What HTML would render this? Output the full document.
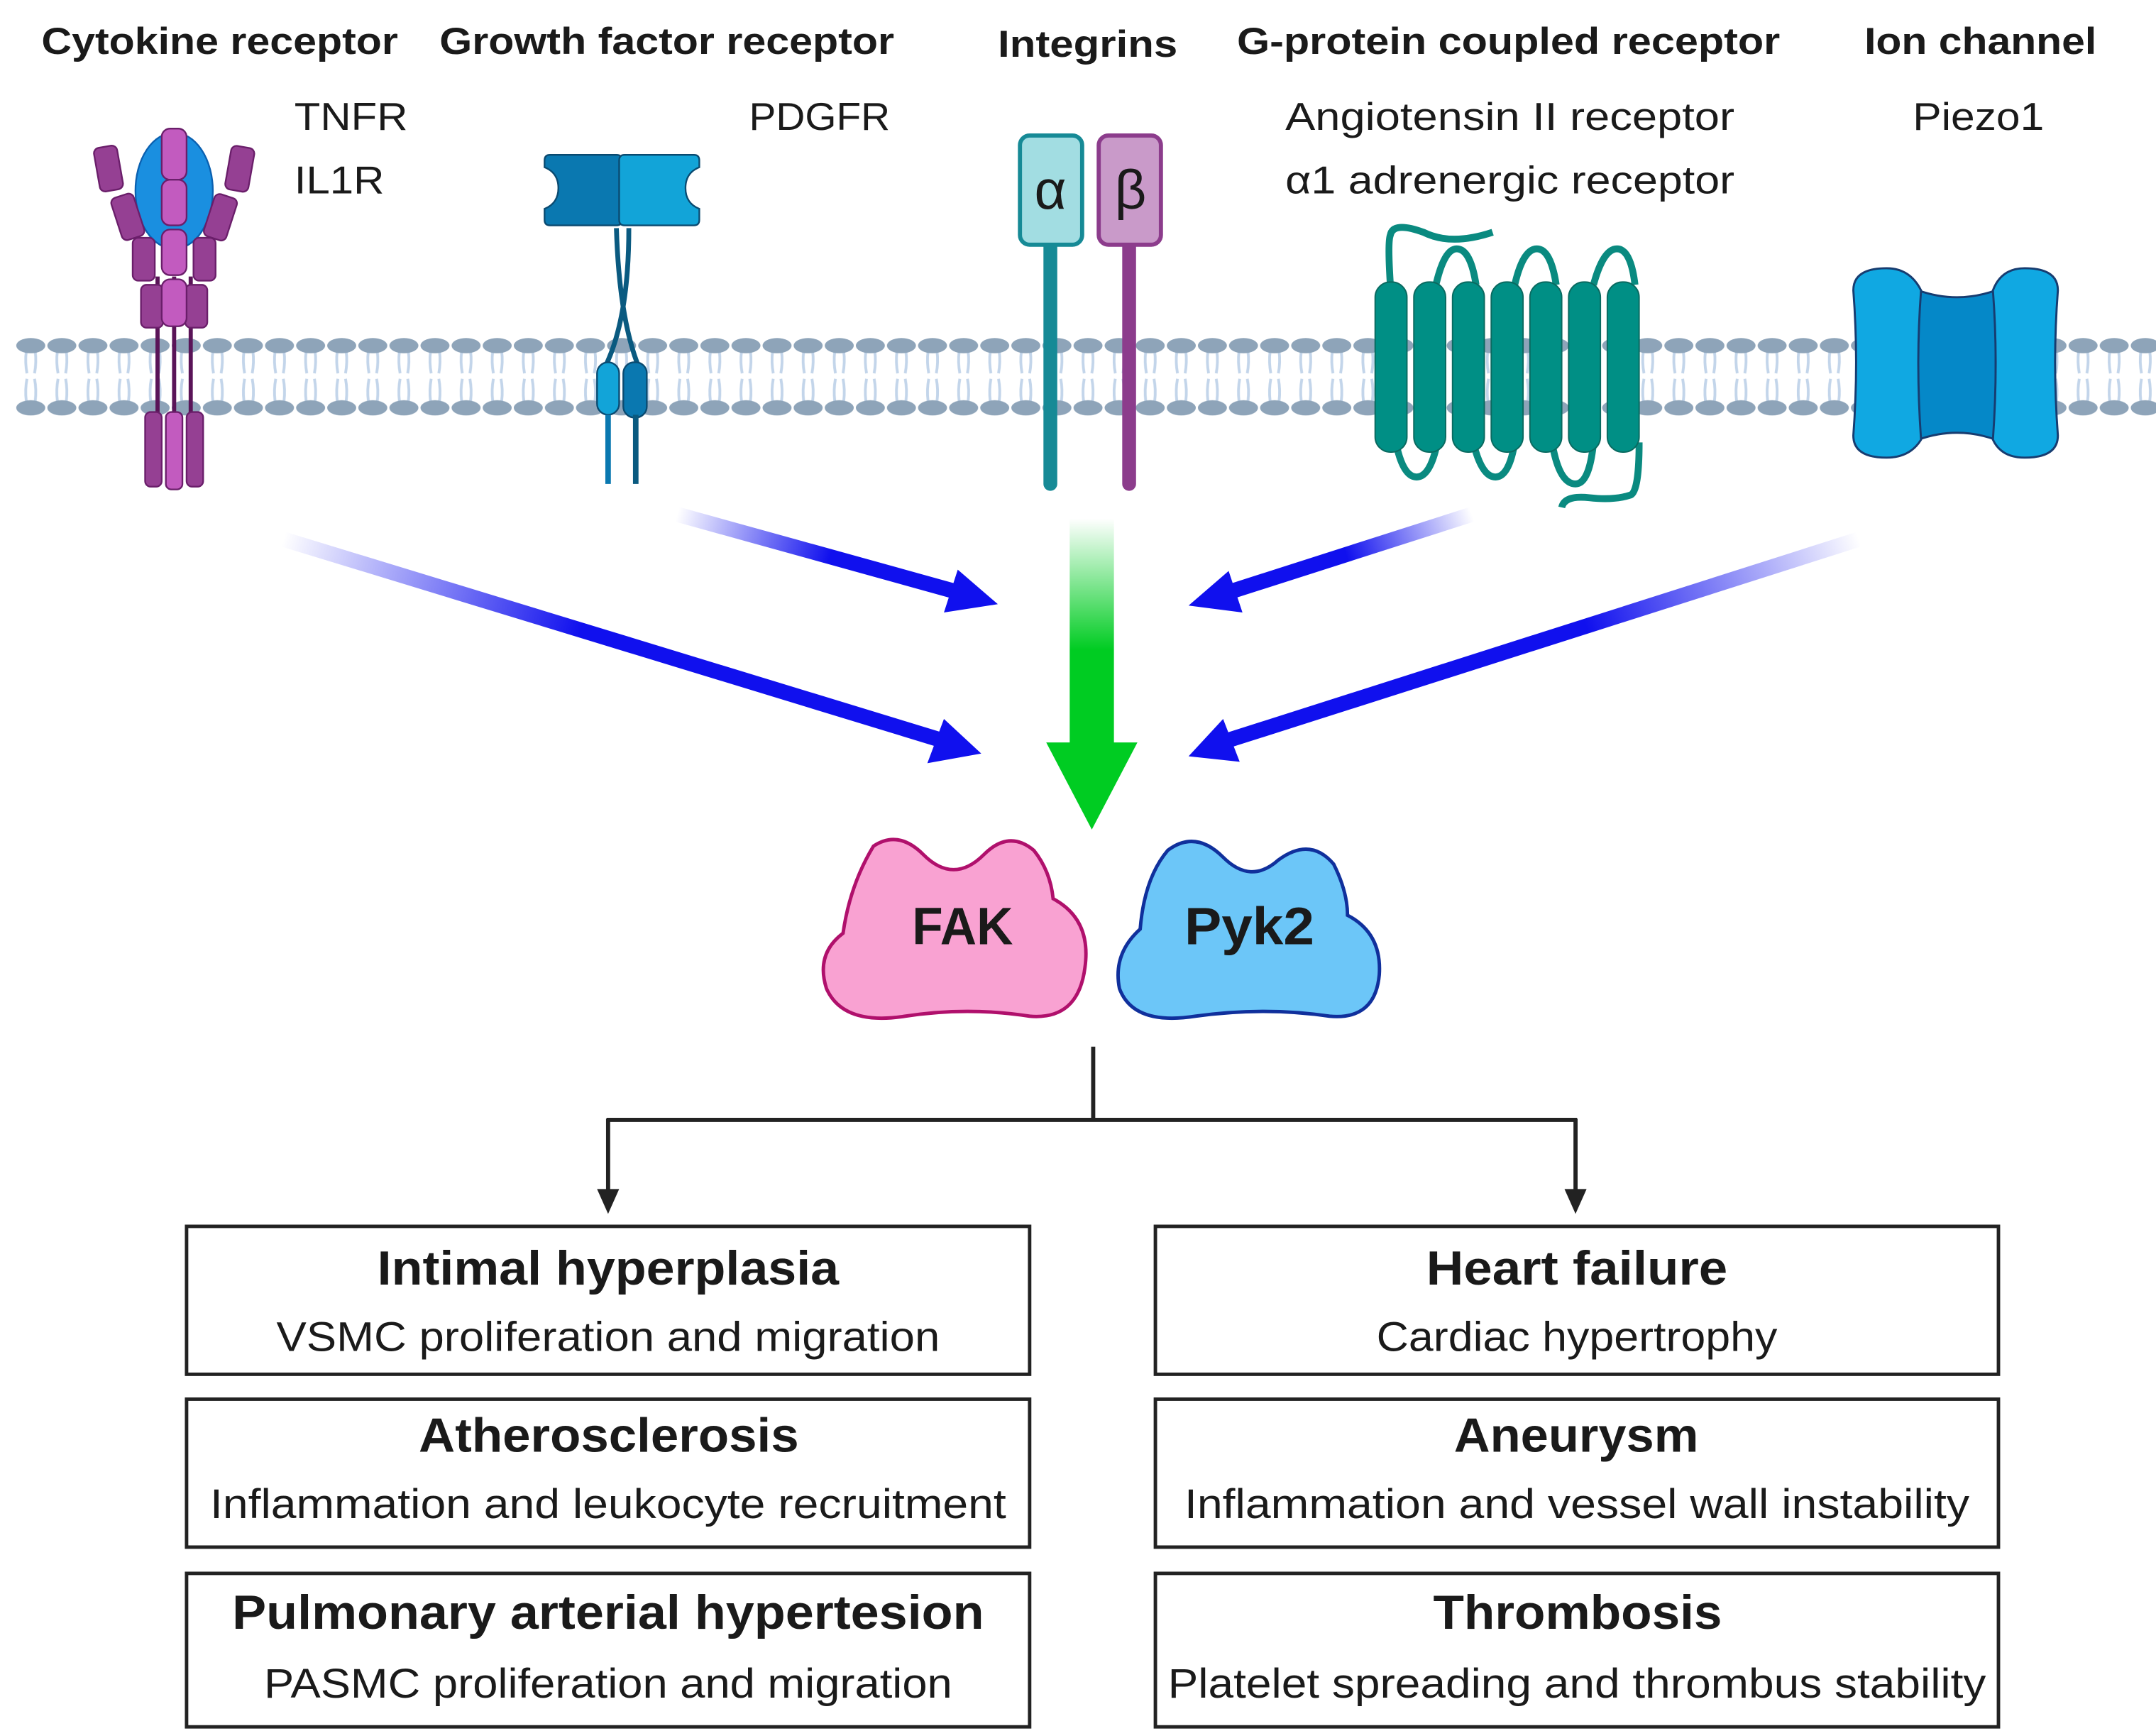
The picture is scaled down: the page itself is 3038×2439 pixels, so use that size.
<!DOCTYPE html>
<html><head><meta charset="utf-8"><style>
html,body{margin:0;padding:0;background:#fff}
svg{display:block}
text{font-family:"Liberation Sans",sans-serif;fill:#1a1a1a}
</style></head><body>
<svg width="3038" height="2439" viewBox="0 0 1560 1252" preserveAspectRatio="none" xmlns="http://www.w3.org/2000/svg">
<defs>
<pattern id="mem" x="11" y="240" width="22.5" height="64" patternUnits="userSpaceOnUse">
<path d="M8 14 Q7 22 8.5 30 M14.5 14 Q15.5 22 14 30 M8.5 34 Q7 42 8 50 M14 34 Q15.5 42 14.5 50" stroke="#c3d5ea" stroke-width="2" fill="none"/>
<ellipse cx="11.25" cy="10" rx="10.5" ry="5.5" fill="#8ea4b9"/>
<ellipse cx="11.25" cy="55" rx="10.5" ry="5.5" fill="#8ea4b9"/>
</pattern>
<linearGradient id="g1" gradientUnits="userSpaceOnUse" x1="205" y1="390" x2="420" y2="456"><stop offset="0" stop-color="#1010ee" stop-opacity="0"/><stop offset="1" stop-color="#1010ee"/></linearGradient>
<linearGradient id="g2" gradientUnits="userSpaceOnUse" x1="490" y1="372" x2="600" y2="404"><stop offset="0" stop-color="#1010ee" stop-opacity="0"/><stop offset="1" stop-color="#1010ee"/></linearGradient>
<linearGradient id="g3" gradientUnits="userSpaceOnUse" x1="1065" y1="372" x2="975" y2="404"><stop offset="0" stop-color="#1010ee" stop-opacity="0"/><stop offset="1" stop-color="#1010ee"/></linearGradient>
<linearGradient id="g4" gradientUnits="userSpaceOnUse" x1="1345" y1="390" x2="1150" y2="460"><stop offset="0" stop-color="#1010ee" stop-opacity="0"/><stop offset="1" stop-color="#1010ee"/></linearGradient>
<linearGradient id="gg" gradientUnits="userSpaceOnUse" x1="0" y1="375" x2="0" y2="470"><stop offset="0" stop-color="#00cc22" stop-opacity="0"/><stop offset="1" stop-color="#00cc22"/></linearGradient>
</defs>

<!-- titles -->
<g font-weight="bold" font-size="27" lengthAdjust="spacingAndGlyphs">
<text x="30" y="39" textLength="258" lengthAdjust="spacingAndGlyphs">Cytokine receptor</text>
<text x="318" y="39" textLength="329" lengthAdjust="spacingAndGlyphs">Growth factor receptor</text>
<text x="722" y="41" textLength="130" lengthAdjust="spacingAndGlyphs">Integrins</text>
<text x="895" y="39" textLength="393" lengthAdjust="spacingAndGlyphs">G-protein coupled receptor</text>
<text x="1349" y="39" textLength="168" lengthAdjust="spacingAndGlyphs">Ion channel</text>
</g>
<g font-size="28">
<text x="213" y="94" textLength="82" lengthAdjust="spacingAndGlyphs">TNFR</text>
<text x="213" y="140" textLength="65" lengthAdjust="spacingAndGlyphs">IL1R</text>
<text x="542" y="94" textLength="102" lengthAdjust="spacingAndGlyphs">PDGFR</text>
<text x="930" y="94" textLength="325" lengthAdjust="spacingAndGlyphs">Angiotensin II receptor</text>
<text x="930" y="140" textLength="325" lengthAdjust="spacingAndGlyphs">α1 adrenergic receptor</text>
<text x="1384" y="94" textLength="95" lengthAdjust="spacingAndGlyphs">Piezo1</text>
</g>

<!-- membrane -->
<rect x="11" y="240" width="1549" height="64" fill="url(#mem)"/>

<!-- cytokine receptor -->
<g stroke="#6a1e6a" stroke-width="1.2">
<ellipse cx="126" cy="138" rx="28" ry="42" fill="#1a8fe0" stroke="#0a60b0"/>
<line x1="114" y1="200" x2="114" y2="330" stroke="#5a1458" stroke-width="3"/>
<line x1="126" y1="200" x2="126" y2="330" stroke="#5a1458" stroke-width="3"/>
<line x1="138" y1="200" x2="138" y2="330" stroke="#5a1458" stroke-width="3"/>
<rect x="70" y="106" width="17" height="32" rx="4" fill="#954093" transform="rotate(-10 78 122)"/>
<rect x="84" y="141" width="17" height="32" rx="4" fill="#954093" transform="rotate(-18 92 157)"/>
<rect x="96" y="172" width="16" height="31" rx="4" fill="#954093"/>
<rect x="102" y="206" width="16" height="31" rx="4" fill="#954093"/>
<rect x="165" y="106" width="17" height="32" rx="4" fill="#954093" transform="rotate(10 173 122)"/>
<rect x="151" y="141" width="17" height="32" rx="4" fill="#954093" transform="rotate(18 159 157)"/>
<rect x="140" y="172" width="16" height="31" rx="4" fill="#954093"/>
<rect x="134" y="206" width="16" height="31" rx="4" fill="#954093"/>
<rect x="117" y="93" width="18" height="37" rx="6" fill="#c25bbf"/>
<rect x="117" y="130" width="18" height="33" rx="6" fill="#c25bbf"/>
<rect x="117" y="166" width="18" height="33" rx="6" fill="#c25bbf"/>
<rect x="117" y="202" width="18" height="34" rx="6" fill="#c25bbf"/>
<rect x="105" y="298" width="12" height="54" rx="4" fill="#954093"/>
<rect x="120" y="298" width="12" height="56" rx="4" fill="#c25bbf"/>
<rect x="135" y="298" width="12" height="54" rx="4" fill="#954093"/>
</g>

<!-- growth factor receptor -->
<g stroke="#0a4a70" stroke-width="1.2">
<path d="M446 165 Q448 230 462 265 M455 165 Q455 230 438 265" stroke="#0a5a80" stroke-width="3.5" fill="none"/>
<path d="M398 112 h48 q4 0 4 4 v43 q0 4 -4 4 h-48 q-4 0 -4 -4 v-8 q10 -4 10 -15 q0 -11 -10 -15 v-5 q0 -4 4 -4z" fill="#0a78b0"/>
<path d="M452 112 h50 q4 0 4 4 v5 q-10 4 -10 15 q0 11 10 15 v8 q0 4 -4 4 h-50 q-4 0 -4 -4 v-43 q0 -4 4 -4z" fill="#12a4d8"/>
<rect x="432" y="262" width="16" height="38" rx="8" fill="#12a4d8"/>
<rect x="451" y="262" width="17" height="40" rx="8" fill="#0a78b0"/>
<line x1="440" y1="300" x2="440" y2="350" stroke="#0a78b0" stroke-width="4"/>
<line x1="460" y1="300" x2="460" y2="350" stroke="#0a5a80" stroke-width="4"/>
</g>

<!-- integrins -->
<line x1="760" y1="175" x2="760" y2="350" stroke="#168a96" stroke-width="10" stroke-linecap="round"/>
<line x1="817" y1="175" x2="817" y2="350" stroke="#8c3c8c" stroke-width="10" stroke-linecap="round"/>
<rect x="738" y="98" width="45" height="79" rx="7" fill="#a2dde2" stroke="#168a96" stroke-width="3"/>
<rect x="795" y="98" width="45" height="79" rx="7" fill="#c99ac9" stroke="#8c3c8c" stroke-width="3"/>
<text x="760" y="151" font-size="40" text-anchor="middle">α</text>
<text x="818" y="151" font-size="40" text-anchor="middle">β</text>

<!-- GPCR -->
<g fill="none" stroke="#0a8a80" stroke-width="5">
<path d="M1006 206 Q1004 175 1006 170 Q1008 160 1030 168 Q1050 178 1080 168"/>
<path d="M1039 206 Q1045 180 1054 180 Q1064 180 1068 206"/>
<path d="M1096 206 Q1102 180 1112 180 Q1122 180 1126 206"/>
<path d="M1153 206 Q1160 180 1170 180 Q1180 180 1183 206"/>
<path d="M1010 320 Q1015 345 1025 345 Q1035 345 1040 320"/>
<path d="M1066 320 Q1072 345 1082 345 Q1092 345 1096 320"/>
<path d="M1123 320 Q1128 350 1140 350 Q1150 350 1153 320"/>
<path d="M1186 320 Q1186 355 1180 358 Q1168 362 1150 360 Q1132 358 1130 367"/>
</g>
<g fill="#008f85" stroke="#0a6a60" stroke-width="1">
<rect x="995" y="204" width="23" height="123" rx="11"/>
<rect x="1023" y="204" width="23" height="123" rx="11"/>
<rect x="1051" y="204" width="23" height="123" rx="11"/>
<rect x="1079" y="204" width="23" height="123" rx="11"/>
<rect x="1107" y="204" width="23" height="123" rx="11"/>
<rect x="1135" y="204" width="23" height="123" rx="11"/>
<rect x="1163" y="204" width="23" height="123" rx="11"/>
</g>

<!-- ion channel -->
<g stroke="#173c70" stroke-width="1.5">
<path d="M1388 210 Q1416 220 1444 210 L1444 318 Q1416 308 1388 318 Z" fill="#0588c8"/>
<path d="M1341 210 Q1341 194 1365 194 Q1382 194 1390 210 Q1386 262 1390 318 Q1382 331 1365 331 Q1341 331 1341 315 Q1345 262 1341 210Z" fill="#10a8e2"/>
<path d="M1489 210 Q1489 194 1465 194 Q1448 194 1442 210 Q1446 262 1442 318 Q1448 331 1465 331 Q1489 331 1489 315 Q1485 262 1489 210Z" fill="#10a8e2"/>
</g>

<!-- arrows -->
<g>
<line x1="205" y1="390" x2="680" y2="535" stroke="url(#g1)" stroke-width="11"/>
<polygon points="710,545 671,552 683,520" fill="#1010ee"/>
<line x1="490" y1="372" x2="692" y2="428" stroke="url(#g2)" stroke-width="11"/>
<polygon points="722,437 683,443 693,412" fill="#1010ee"/>
<line x1="1065" y1="372" x2="890" y2="428" stroke="url(#g3)" stroke-width="11"/>
<polygon points="860,438 889,413 899,443" fill="#1010ee"/>
<line x1="1345" y1="390" x2="890" y2="535" stroke="url(#g4)" stroke-width="11"/>
<polygon points="860,547 885,520 897,551" fill="#1010ee"/>
<rect x="774" y="375" width="32" height="165" fill="url(#gg)"/>
<polygon points="757,537 823,537 790,600" fill="#00cc22"/>
</g>

<!-- FAK / Pyk2 -->
<path d="M632 612 Q650 600 668 618 Q690 640 712 618 Q730 600 748 615 Q760 630 762 650 Q790 665 785 700 Q780 738 745 735 Q700 728 655 735 Q610 742 598 715 Q590 690 610 675 Q615 640 632 612Z" fill="#f9a2d2" stroke="#b0106c" stroke-width="2.5"/>
<text x="660" y="683" font-size="38" font-weight="bold" textLength="73" lengthAdjust="spacingAndGlyphs">FAK</text>
<path d="M845 615 Q865 600 885 620 Q905 640 925 622 Q948 605 965 625 Q975 645 975 662 Q1000 675 998 705 Q995 738 962 735 Q915 728 865 735 Q820 742 810 715 Q805 690 825 672 Q828 635 845 615Z" fill="#6cc6f8" stroke="#10309c" stroke-width="2.5"/>
<text x="857" y="683" font-size="38" font-weight="bold" textLength="94" lengthAdjust="spacingAndGlyphs">Pyk2</text>

<!-- connector -->
<g stroke="#222" stroke-width="3" fill="none">
<line x1="791" y1="757" x2="791" y2="810"/>
<line x1="439" y1="810" x2="1141" y2="810"/>
<line x1="440" y1="809" x2="440" y2="862"/>
<line x1="1140" y1="809" x2="1140" y2="862"/>
</g>
<polygon points="432,860 448,860 440,878" fill="#222"/>
<polygon points="1132,860 1148,860 1140,878" fill="#222"/>

<!-- boxes -->
<g fill="#fff" stroke="#222" stroke-width="2.5">
<rect x="135" y="887" width="610" height="107"/>
<rect x="135" y="1012" width="610" height="107"/>
<rect x="135" y="1138" width="610" height="111"/>
<rect x="836" y="887" width="610" height="107"/>
<rect x="836" y="1012" width="610" height="107"/>
<rect x="836" y="1138" width="610" height="111"/>
</g>
<g>
<text x="273" y="929" font-size="35" font-weight="bold" textLength="334" lengthAdjust="spacingAndGlyphs">Intimal hyperplasia</text>
<text x="200" y="977" font-size="30" textLength="480" lengthAdjust="spacingAndGlyphs">VSMC proliferation and migration</text>
<text x="303" y="1050" font-size="35" font-weight="bold" textLength="275" lengthAdjust="spacingAndGlyphs">Atherosclerosis</text>
<text x="152" y="1098" font-size="30" textLength="576" lengthAdjust="spacingAndGlyphs">Inflammation and leukocyte recruitment</text>
<text x="168" y="1178" font-size="35" font-weight="bold" textLength="544" lengthAdjust="spacingAndGlyphs">Pulmonary arterial hypertesion</text>
<text x="191" y="1228" font-size="30" textLength="498" lengthAdjust="spacingAndGlyphs">PASMC proliferation and migration</text>
<text x="1032" y="929" font-size="35" font-weight="bold" textLength="218" lengthAdjust="spacingAndGlyphs">Heart failure</text>
<text x="996" y="977" font-size="30" textLength="290" lengthAdjust="spacingAndGlyphs">Cardiac hypertrophy</text>
<text x="1052" y="1050" font-size="35" font-weight="bold" textLength="177" lengthAdjust="spacingAndGlyphs">Aneurysm</text>
<text x="857" y="1098" font-size="30" textLength="568" lengthAdjust="spacingAndGlyphs">Inflammation and vessel wall instability</text>
<text x="1037" y="1178" font-size="35" font-weight="bold" textLength="209" lengthAdjust="spacingAndGlyphs">Thrombosis</text>
<text x="845" y="1228" font-size="30" textLength="592" lengthAdjust="spacingAndGlyphs">Platelet spreading and thrombus stability</text>
</g>
</svg>
</body></html>
